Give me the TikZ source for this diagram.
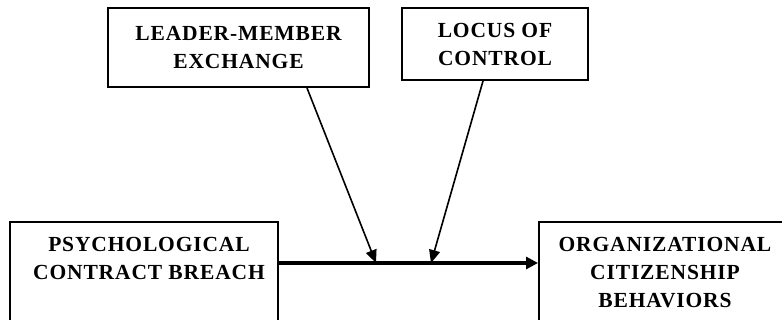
\documentclass[tikz,border=0pt]{standalone}
\usepackage{fontspec}
\setmainfont{Liberation Serif}
\usetikzlibrary{arrows.meta}
\begin{document}
\begin{tikzpicture}[x=1pt,y=1pt,
  box/.style={draw,line width=2pt,rectangle,inner sep=0pt},
  lbl/.style={font=\fontsize{21.5}{28}\selectfont\bfseries\addfontfeatures{LetterSpace=4},align=center,inner sep=0pt},
  arr/.style={line width=1.6pt,-{Triangle[length=13pt,width=11pt]}},
  mainarr/.style={line width=3.2pt,-{Triangle[length=12pt,width=12pt]}}]
\useasboundingbox (0,0) rectangle (782,320);
\node[box,minimum width=261pt,minimum height=79pt,lbl] (lmx) at (238.5,272.5) {LEADER-MEMBER\\EXCHANGE};
\node[box,minimum width=186pt,minimum height=72pt,lbl] (loc) at (495,276) {LOCUS OF\\CONTROL};
\node[box,minimum width=268pt,minimum height=118pt] (pcb) at (144,39) {};
\node[box,minimum width=261pt,minimum height=118pt] (ocb) at (669.5,39) {};
\node[lbl,anchor=north] (pcbt) at (149,83) {PSYCHOLOGICAL\\CONTRACT BREACH};
\node[lbl,anchor=north] (ocbt) at (665,83) {ORGANIZATIONAL\\CITIZENSHIP\\BEHAVIORS};
\coordinate (m) at (0,57);
\coordinate (t1) at (376,57);
\coordinate (t2) at (431,57);
\draw[mainarr] (pcb.east |- m) -- (ocb.west |- m);
\draw[arr] ([xshift=68.5pt]lmx.south) -- (t1);
\draw[arr] ([xshift=-12pt]loc.south) -- (t2);
\end{tikzpicture}
\end{document}
